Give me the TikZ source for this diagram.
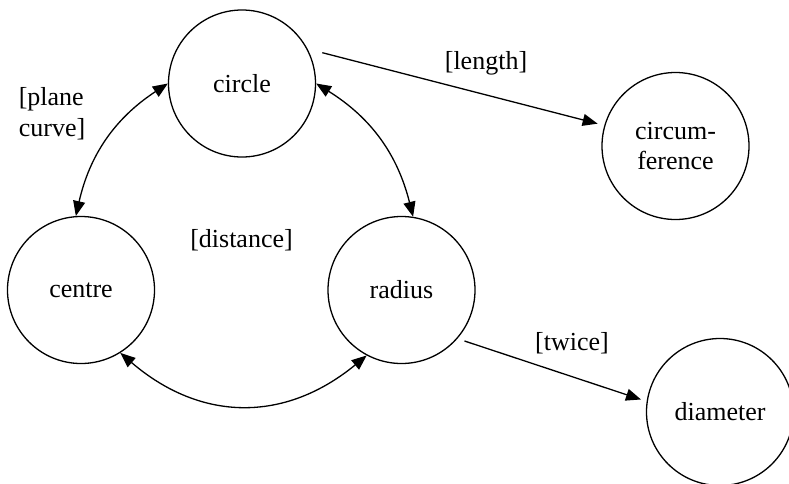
\documentclass[tikz,border=0pt]{standalone}
\usepackage{fontspec}
\setmainfont{Liberation Serif}
\usetikzlibrary{arrows.meta}
\tikzset{
  concept/.style={circle, draw, line width=1.3pt, minimum size=147pt, inner sep=0pt,
    align=center, font=\fontsize{26}{30}\selectfont},
  lbl/.style={font=\fontsize{26}{31}\selectfont, inner sep=0pt},
  tip/.style={Triangle[length=15pt,width=12pt]},
  arr/.style={line width=1.3pt, -{Triangle[length=15pt,width=12pt]}},
  dbl/.style={line width=1.3pt, {Triangle[length=15pt,width=12pt]}-{Triangle[length=15pt,width=12pt]}},
}
\begin{document}
\begin{tikzpicture}[x=1pt,y=1pt]
  \useasboundingbox (0,0) rectangle (789,-483);
  % concept nodes
  \node[concept] (circ)   at (242,-83.5)  {circle};
  \node[concept] (circum) at (675.5,-146) {circum-\\ference};
  \node[concept] (centre) at (81,-290)    {centre};
  \node[concept] (rad)    at (401.5,-290) {radius};
  \node[concept] (diam)   at (720,-412)   {diameter};
  % relation labels
  \node[lbl] (llength)   at (486,-63)  {[length]};
  \node[lbl, align=left] (lplane) at (52,-114) {[plane\\curve]};
  \node[lbl] (ldistance) at (241.5,-240) {[distance]};
  \node[lbl] (ltwice)    at (572,-343) {[twice]};
  % one-way links
  \draw[arr] ([shift={(21:86)}]circ.center) -- ([shift={(164:81)}]circum.center);
  \draw[arr] ([shift={(-39:81)}]rad.center) -- ([shift={(171:80)}]diam.center);
  % two-way links
  \draw[dbl] (circ.180) to[bend right=22] (centre.94);
  \draw[dbl] (circ.0) to[bend left=22] (rad.81);
  \draw[dbl] (centre.-58) to[bend right=40, looseness=1.1] (rad.-118);
\end{tikzpicture}
\end{document}
